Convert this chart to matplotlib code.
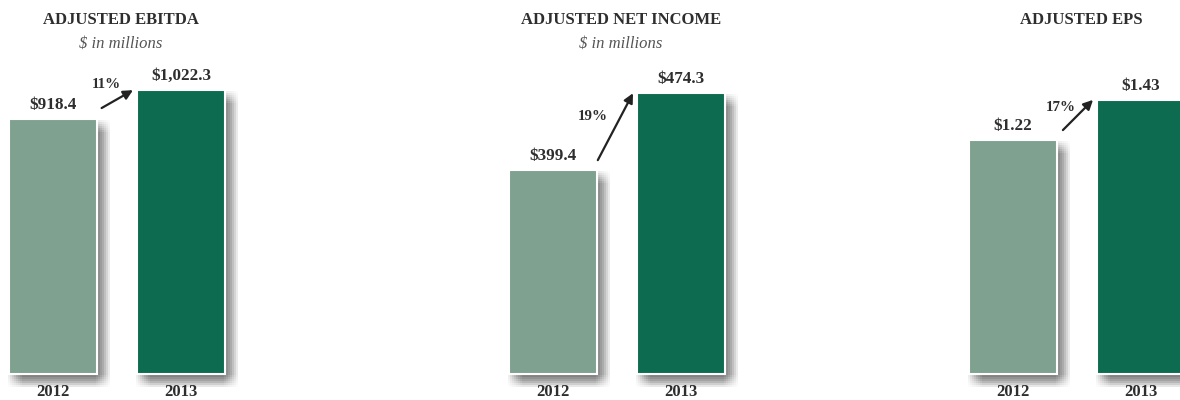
import matplotlib
matplotlib.use('Agg')
import matplotlib.pyplot as plt
import matplotlib.patheffects as pe

# Chart data
years = ['2012', '2013']
titles = ['ADJUSTED EBITDA', 'ADJUSTED NET INCOME', 'ADJUSTED EPS']
subtitles = ['$ in millions', '$ in millions', '']
ebitda = [918.4, 1022.3]
net_income = [399.4, 474.3]
eps = [1.22, 1.43]
value_labels = [['$918.4', '$1,022.3'], ['$399.4', '$474.3'], ['$1.22', '$1.43']]
growth = ['11%', '19%', '17%']

series = [ebitda, net_income, eps]
# axis ranges per panel (net income axis is truncated in the original)
ylims = [(0, 1347), (201, 565), (0, 1.951)]
# arrow tail (x, fraction of the gap between bars) and growth label position
arrow_tail = [(0.38, 0.38), (0.35, 0.13), (0.39, 0.25)]
pct_pos = [(0.42, 1.2), (0.31, 0.7), (0.37, 0.8)]

light = '#7fa190'
dark = '#0d6b50'
text_col = '#2e2e2e'

plt.rcParams['font.family'] = ['Liberation Serif', 'DejaVu Serif']

fig = plt.figure(figsize=(11.8, 4), dpi=100)
W, H = 1180, 400
left_px = [-11, 489, 949]

# soft drop shadow: many faint copies spread around an offset (box blur)
px2pt = 0.72
shadow = []
for dx in range(-7, 8, 2):
    for dy in range(-7, 6, 2):
        shadow.append(pe.SimplePatchShadow(offset=((6 + dx) * px2pt, (-6 + dy) * px2pt),
                                           shadow_rgbFace='#000000', alpha=0.011))
shadow.append(pe.Normal())

for i, vals in enumerate(series):
    ax = fig.add_axes([left_px[i] / W, 26 / H, 256 / W, 374 / H])
    ax.set_xlim(-0.5, 1.5)
    lo, hi = ylims[i]
    ax.set_ylim(lo, hi)
    heights = [v - lo for v in vals]
    bars = ax.bar([0, 1], heights, bottom=lo, width=0.69, color=[light, dark],
                  edgecolor='white', linewidth=1.5, clip_on=False, zorder=3)
    for b in bars:
        b.set_path_effects(shadow)
    for j, v in enumerate(vals):
        ax.annotate(value_labels[i][j], (j, v), xytext=(0, 10), textcoords='offset points',
                    ha='center', va='center', fontsize=12.3, fontweight='bold', color=text_col)
    # growth arrow
    tx, tf = arrow_tail[i]
    ax.annotate('', xy=(0.625, vals[1]), xytext=(tx, vals[0] + tf * (vals[1] - vals[0])),
                arrowprops=dict(arrowstyle='-|>', color='#222222', lw=1.6, mutation_scale=14,
                                shrinkA=0, shrinkB=0), zorder=4)
    px, pf = pct_pos[i]
    ax.text(px, vals[0] + pf * (vals[1] - vals[0]), growth[i], ha='center', va='center',
            fontsize=10.8, fontweight='bold', color=text_col)
    ax.text(0.515, 0.947, titles[i], transform=ax.transAxes, ha='center', va='center',
            fontsize=12, fontweight='bold', color=text_col)
    if subtitles[i]:
        ax.text(0.515, 0.882, subtitles[i], transform=ax.transAxes, ha='center', va='center',
                fontsize=12, style='italic', color='#555555')
    ax.set_xticks([0, 1])
    ax.set_xticklabels(years, fontsize=12, fontweight='bold', color=text_col)
    ax.tick_params(axis='x', length=0, pad=7.5)
    ax.set_yticks([])
    for s in ax.spines.values():
        s.set_visible(False)
    ax.patch.set_alpha(0)

fig.savefig('out.png', dpi=100)
